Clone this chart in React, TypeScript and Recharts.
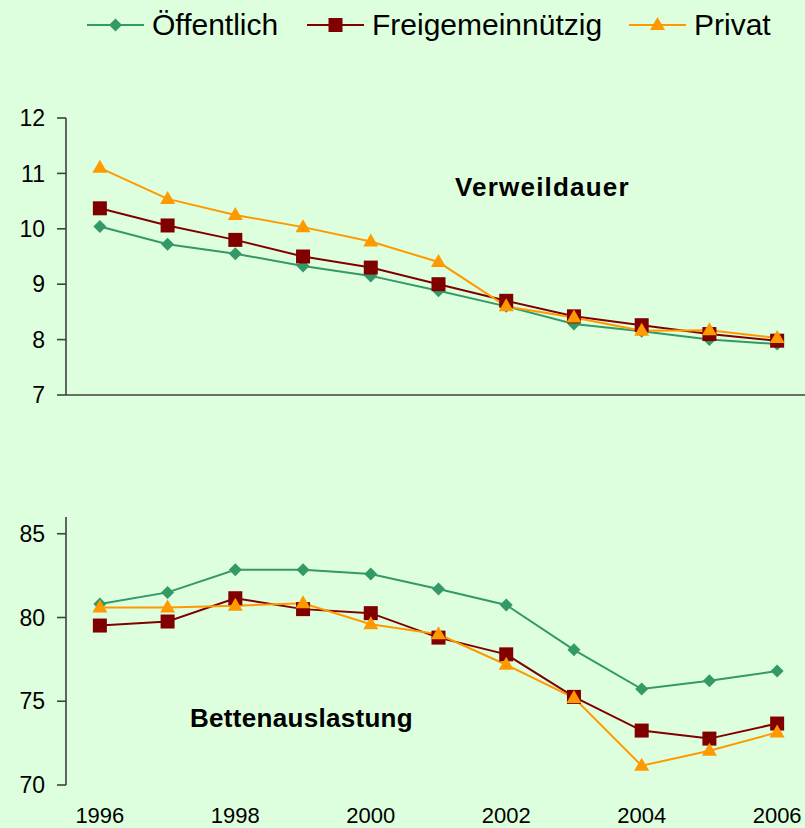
import React from 'react';
import { LineChart, Line, XAxis, YAxis } from 'recharts';

// Jahre (Kategorien)
const years = [1996, 1997, 1998, 1999, 2000, 2001, 2002, 2003, 2004, 2005, 2006];
const yearLabels = [1996, 1998, 2000, 2002, 2004, 2006];
const bandTicks = [1995.5, 1996.5, 1997.5, 1998.5, 1999.5, 2000.5, 2001.5, 2002.5, 2003.5, 2004.5, 2005.5, 2006.5];

// Verweildauer (Tage)
const verweilOeffentlich = [10.04, 9.72, 9.55, 9.33, 9.15, 8.88, 8.6, 8.28, 8.15, 8.0, 7.92];
const verweilFreigemein = [10.37, 10.06, 9.8, 9.5, 9.3, 9.0, 8.7, 8.42, 8.26, 8.1, 7.98];
const verweilPrivat = [11.1, 10.54, 10.25, 10.03, 9.77, 9.4, 8.6, 8.4, 8.16, 8.17, 8.03];
const verweilTicks = [7, 8, 9, 10, 11, 12];

// Bettenauslastung (%)
const bettenOeffentlich = [80.8, 81.5, 82.85, 82.85, 82.6, 81.7, 80.75, 78.07, 75.73, 76.23, 76.8];
const bettenFreigemein = [79.52, 79.76, 81.15, 80.5, 80.26, 78.8, 77.8, 75.26, 73.25, 72.77, 73.67];
const bettenPrivat = [80.6, 80.6, 80.7, 80.85, 79.6, 79.0, 77.18, 75.2, 71.15, 72.04, 73.14];
const bettenTicks = [70, 75, 80, 85];

const GREEN = '#339966';
const RED = '#800000';
const ORANGE = '#FF9900';
const AXIS = '#404040';
const FONT = '"Liberation Sans", Arial, sans-serif';

const verweilData = years.map((year, i) => ({
  year,
  oeff: verweilOeffentlich[i],
  frei: verweilFreigemein[i],
  priv: verweilPrivat[i],
}));

const bettenData = years.map((year, i) => ({
  year,
  oeff: bettenOeffentlich[i],
  frei: bettenFreigemein[i],
  priv: bettenPrivat[i],
}));

type Shape = 'diamond' | 'square' | 'triangle';

const Marker = ({ cx, cy, shape, color }: { cx: number; cy: number; shape: Shape; color: string }) => {
  if (shape === 'diamond') {
    const r = 6.5;
    return <path d={`M${cx},${cy - r}L${cx + r},${cy}L${cx},${cy + r}L${cx - r},${cy}Z`} fill={color} />;
  }
  if (shape === 'square') {
    return <rect x={cx - 7} y={cy - 7} width={14} height={14} fill={color} />;
  }
  return <path d={`M${cx},${cy - 8}L${cx + 7.5},${cy + 5}L${cx - 7.5},${cy + 5}Z`} fill={color} />;
};

const dotFor = (shape: Shape, color: string) => (props: any) => (
  <Marker key={`${shape}-${props.index}`} cx={props.cx} cy={props.cy} shape={shape} color={color} />
);

const series: { key: string; name: string; color: string; shape: Shape }[] = [
  { key: 'oeff', name: 'Öffentlich', color: GREEN, shape: 'diamond' },
  { key: 'frei', name: 'Freigemeinnützig', color: RED, shape: 'square' },
  { key: 'priv', name: 'Privat', color: ORANGE, shape: 'triangle' },
];

const legendX = [87, 307, 629];

const yTick = { fill: '#000', fontSize: 23, fontFamily: FONT };

function renderLines() {
  return series.map((s) => (
    <Line
      key={s.key}
      type="linear"
      dataKey={s.key}
      name={s.name}
      stroke={s.color}
      strokeWidth={2}
      dot={dotFor(s.shape, s.color)}
      activeDot={false}
      isAnimationActive={false}
    />
  ));
}

export default function App() {
  return (
    <div
      style={{
        position: 'absolute',
        left: 0,
        top: 0,
        width: 805,
        height: 828,
        overflow: 'hidden',
        background: '#ddffdd',
        fontFamily: FONT,
      }}
    >
      {/* Verweildauer */}
      <div style={{ position: 'absolute', left: 0, top: 0 }}>
        <LineChart width={830} height={440} data={verweilData} margin={{ top: 118, right: 19, bottom: 25, left: 0 }}>
          <XAxis
            dataKey="year"
            type="number"
            domain={[1995.5, 2006.5]}
            allowDataOverflow
            ticks={bandTicks}
            interval={0}
            tick={false}
            tickSize={8}
            height={20}
            axisLine={{ stroke: AXIS, strokeWidth: 1.6 }}
            tickLine={{ stroke: AXIS, strokeWidth: 1.6 }}
          />
          <YAxis
            domain={[7, 12]}
            ticks={verweilTicks}
            interval={0}
            width={66}
            tickSize={9}
            tickMargin={12}
            tick={yTick}
            axisLine={{ stroke: AXIS, strokeWidth: 1.6 }}
            tickLine={{ stroke: AXIS, strokeWidth: 1.6 }}
          />
          {renderLines()}
        </LineChart>
      </div>

      {/* Bettenauslastung */}
      <div style={{ position: 'absolute', left: 0, top: 460 }}>
        <LineChart width={830} height={368} data={bettenData} margin={{ top: 57, right: 19, bottom: 5, left: 0 }}>
          <XAxis
            dataKey="year"
            type="number"
            domain={[1995.5, 2006.5]}
            allowDataOverflow
            ticks={bandTicks}
            interval={0}
            tick={false}
            tickSize={6}
            height={0}
            axisLine={{ stroke: AXIS, strokeWidth: 1.6 }}
            tickLine={{ stroke: AXIS, strokeWidth: 1.6 }}
          />
          <XAxis
            xAxisId="labels"
            dataKey="year"
            type="number"
            domain={[1995.5, 2006.5]}
            allowDataOverflow
            ticks={yearLabels}
            interval={0}
            height={38}
            tickSize={0}
            tickMargin={22}
            axisLine={false}
            tickLine={false}
            tick={{ fill: '#000', fontSize: 22, fontFamily: FONT }}
          />
          <YAxis
            domain={[70, 86]}
            ticks={bettenTicks}
            interval={0}
            width={66}
            tickSize={9}
            tickMargin={12}
            tick={yTick}
            axisLine={{ stroke: AXIS, strokeWidth: 1.6 }}
            tickLine={{ stroke: AXIS, strokeWidth: 1.6 }}
          />
          {renderLines()}
        </LineChart>
      </div>

      {/* Legende und Beschriftungen */}
      <svg width={805} height={828} style={{ position: 'absolute', left: 0, top: 0, pointerEvents: 'none' }}>
        {series.map((s, i) => (
          <g key={s.key}>
            <line x1={legendX[i]} x2={legendX[i] + 57} y1={25} y2={25} stroke={s.color} strokeWidth={2} />
            <Marker cx={legendX[i] + 28.5} cy={25} shape={s.shape} color={s.color} />
            <text x={legendX[i] + 65} y={35} fontSize={30} fontFamily={FONT} fill="#000">
              {s.name}
            </text>
          </g>
        ))}
        <text x={455} y={196} fontSize={26} fontWeight="bold" fontFamily={FONT} letterSpacing={1.2} fill="#000">
          Verweildauer
        </text>
        <text x={190} y={727} fontSize={26} fontWeight="bold" fontFamily={FONT} letterSpacing={0.3} fill="#000">
          Bettenauslastung
        </text>
      </svg>
    </div>
  );
}
